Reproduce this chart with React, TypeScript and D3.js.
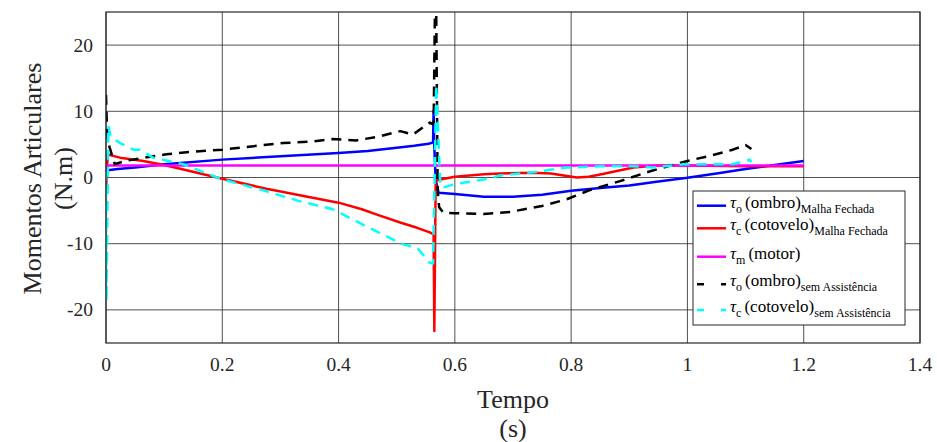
import React from "react";
import * as d3 from "d3";

// tick values
const xTicks = [0, 0.2, 0.4, 0.6, 0.8, 1, 1.2, 1.4];
const yTicks = [-20, -10, 0, 10, 20];

// tau_o (ombro) Malha Fechada
const ombroMFTime = [0, 0.003, 0.02, 0.05, 0.1, 0.2, 0.3, 0.4, 0.45, 0.5, 0.53, 0.555, 0.5625, 0.5635, 0.5645, 0.567, 0.572, 0.6, 0.65, 0.7, 0.75, 0.8, 0.85, 0.9, 0.95, 1.0, 1.05, 1.1, 1.15, 1.2];
const ombroMFVal = [1.0, 1.1, 1.3, 1.5, 2.0, 2.7, 3.2, 3.7, 4.0, 4.5, 4.8, 5.1, 5.3, 10.1, 5.0, -0.3, -2.3, -2.5, -2.9, -2.9, -2.6, -2.0, -1.6, -1.2, -0.6, -0.05, 0.6, 1.3, 1.9, 2.5];

// tau_c (cotovelo) Malha Fechada
const cotoveloMFTime = [0, 0.001, 0.003, 0.01, 0.024, 0.04, 0.064, 0.1, 0.133, 0.2, 0.276, 0.34, 0.4, 0.44, 0.466, 0.506, 0.535, 0.557, 0.5635, 0.5647, 0.567, 0.575, 0.6, 0.65, 0.678, 0.735, 0.765, 0.79, 0.81, 0.83, 0.85, 0.907, 0.947, 1.0, 1.1, 1.2];
const cotoveloMFVal = [-2.0, 0.0, 3.5, 3.3, 3.0, 2.8, 2.5, 1.9, 1.2, -0.2, -1.7, -2.8, -3.8, -4.8, -5.6, -6.8, -7.6, -8.3, -8.6, -23.2, -0.5, -0.3, 0.1, 0.5, 0.6, 0.7, 0.6, 0.25, 0.0, 0.1, 0.45, 1.5, 1.8, 1.8, 1.7, 1.7];

// tau_m (motor)
const motorTime = [0, 1.2];
const motorVal = [1.8, 1.8];

// tau_o (ombro) sem Assistencia
const ombroSATime = [0, 0.0015, 0.003, 0.015, 0.033, 0.067, 0.081, 0.104, 0.15, 0.2, 0.25, 0.305, 0.35, 0.39, 0.43, 0.47, 0.506, 0.528, 0.557, 0.5635, 0.567, 0.5705, 0.573, 0.58, 0.6, 0.65, 0.695, 0.75, 0.792, 0.832, 0.884, 0.936, 1.0, 1.04, 1.078, 1.1, 1.11];
const ombroSAVal = [12.5, 8.0, 5.5, 2.0, 2.5, 3.0, 3.2, 3.5, 3.9, 4.2, 4.7, 5.2, 5.4, 5.8, 5.6, 6.2, 7.0, 6.5, 8.3, 8.0, 35, -2.0, -4.5, -5.3, -5.4, -5.5, -5.2, -4.3, -3.3, -1.9, -0.55, 0.95, 2.5, 3.3, 4.2, 4.9, 4.3];

// tau_c (cotovelo) sem Assistencia
const cotoveloSATime = [0, 0.0008, 0.004, 0.008, 0.024, 0.047, 0.058, 0.081, 0.133, 0.2, 0.265, 0.334, 0.39, 0.408, 0.448, 0.494, 0.511, 0.535, 0.557, 0.5625, 0.568, 0.575, 0.58, 0.6, 0.65, 0.678, 0.735, 0.792, 0.85, 0.907, 0.94, 0.993, 1.078, 1.107, 1.11];
const cotoveloSAVal = [1.0, -18.7, 7.8, 6.2, 5.2, 4.2, 4.2, 3.0, 2.0, -0.3, -1.8, -3.6, -4.8, -5.6, -7.4, -9.4, -10.1, -10.6, -12.9, -13.0, 14.0, -1.3, -1.5, -1.0, -0.3, 0.3, 0.8, 1.5, 1.7, 1.7, 1.5, 2.0, 2.0, 2.7, 2.3];

const width = 937;
const height = 442;
const margin = { top: 12, right: 17, bottom: 99, left: 106 };
const font = "Liberation Serif, serif";

const x = d3.scaleLinear().domain([0, 1.4]).range([margin.left, width - margin.right]);
const y = d3.scaleLinear().domain([-25, 25]).range([height - margin.bottom, margin.top]);

const line = d3
  .line<[number, number]>()
  .x((d) => x(d[0]))
  .y((d) => y(d[1]));

const zip = (t: number[], v: number[]) => t.map((ti, i) => [ti, v[i]] as [number, number]);

const series = [
  { data: zip(ombroMFTime, ombroMFVal), color: "#0000ff", dash: null, name: "(ombro)", sub: "o", tail: "Malha Fechada" },
  { data: zip(cotoveloMFTime, cotoveloMFVal), color: "#ff0000", dash: null, name: "(cotovelo)", sub: "c", tail: "Malha Fechada" },
  { data: zip(motorTime, motorVal), color: "#ff00ff", dash: null, name: "(motor)", sub: "m", tail: "" },
  { data: zip(ombroSATime, ombroSAVal), color: "#000000", dash: "10,7", name: "(ombro)", sub: "o", tail: "sem Assistência" },
  { data: zip(cotoveloSATime, cotoveloSAVal), color: "#00ffff", dash: "10,7", name: "(cotovelo)", sub: "c", tail: "sem Assistência" },
];

const legendRows = [205.7, 228.3, 256.7, 284.3, 310];

export default function App() {
  const x0 = margin.left;
  const x1 = width - margin.right;
  const y0 = margin.top;
  const y1 = height - margin.bottom;
  return (
    <svg width={width} height={height} style={{ position: "absolute", left: 0, top: 0, background: "#fff", fontFamily: font }}>
      <defs>
        <clipPath id="plot">
          <rect x={x0} y={y0} width={x1 - x0} height={y1 - y0} />
        </clipPath>
      </defs>
      {/* grid */}
      {xTicks.map((t) => (
        <line key={"gx" + t} x1={x(t)} x2={x(t)} y1={y0} y2={y1} stroke="#262626" strokeOpacity={0.8} strokeWidth={1} />
      ))}
      {yTicks.map((t) => (
        <line key={"gy" + t} x1={x0} x2={x1} y1={y(t)} y2={y(t)} stroke="#262626" strokeOpacity={0.8} strokeWidth={1} />
      ))}
      {/* series */}
      <g clipPath="url(#plot)">
        {series.map((s, i) => (
          <path key={i} d={line(s.data) || ""} fill="none" stroke={s.color} strokeWidth={2.5} strokeDasharray={s.dash || undefined} strokeLinejoin="round" />
        ))}
      </g>
      {/* axes box */}
      <rect x={x0} y={y0} width={x1 - x0} height={y1 - y0} fill="none" stroke="#262626" strokeWidth={1.2} />
      {/* tick labels */}
      {xTicks.map((t) => (
        <text key={"tx" + t} x={x(t)} y={y1 + 28} textAnchor="middle" fontSize={19.5} fontFamily={font} fill="#262626">
          {String(t)}
        </text>
      ))}
      {yTicks.map((t) => (
        <text key={"ty" + t} x={x0 - 13} y={y(t) + 6.5} textAnchor="end" fontSize={19.5} fontFamily={font} fill="#262626">
          {String(t)}
        </text>
      ))}
      {/* axis labels */}
      <text x={(x0 + x1) / 2} y={408} textAnchor="middle" fontSize={26} fontFamily={font} fill="#262626">Tempo</text>
      <text x={(x0 + x1) / 2} y={437} textAnchor="middle" fontSize={26} fontFamily={font} fill="#262626">(s)</text>
      <text transform={`translate(41,${(y0 + y1) / 2 + 1}) rotate(-90)`} textAnchor="middle" fontSize={26} fontFamily={font} fill="#262626">Momentos Articulares</text>
      <text transform={`translate(72,${(y0 + y1) / 2 + 1}) rotate(-90)`} textAnchor="middle" fontSize={26} fontFamily={font} fill="#262626">(N.m)</text>
      {/* legend */}
      <rect x={693} y={191} width={212} height={134} fill="#fff" stroke="#262626" strokeWidth={1} />
      {series.map((s, i) => {
        const ly = legendRows[i];
        return (
          <g key={"lg" + i}>
            <line x1={697} x2={726} y1={ly} y2={ly} stroke={s.color} strokeWidth={2.5} strokeDasharray={s.dash ? "7,17" : undefined} />
            <text x={730} y={ly + 2} fontSize={17} fontFamily={font} fill="#000">
              <tspan fontStyle="italic">τ</tspan>
              <tspan fontSize={12} dy={5}>{s.sub}</tspan>
              <tspan dy={-5} dx={3}>{s.name}</tspan>
              {s.tail ? <tspan fontSize={12} dy={5}>{s.tail}</tspan> : null}
            </text>
          </g>
        );
      })}
    </svg>
  );
}
